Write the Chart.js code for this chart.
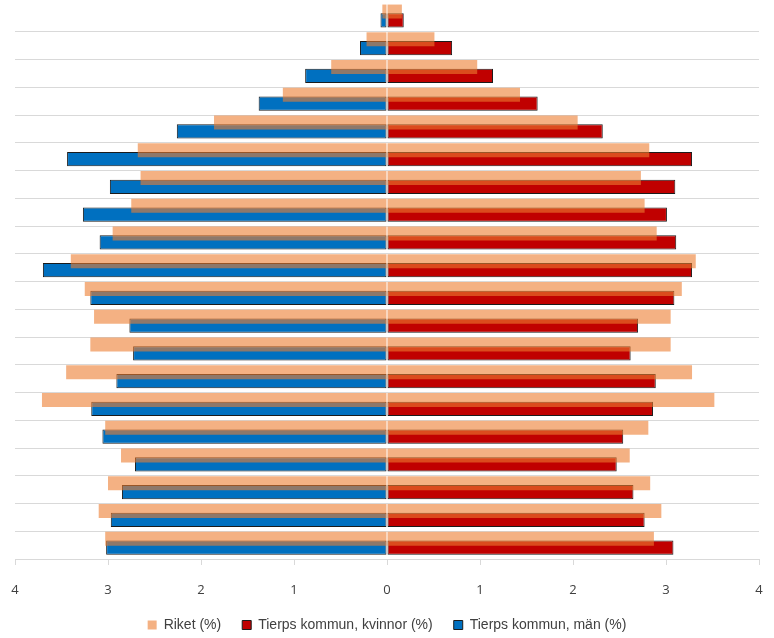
<!DOCTYPE html>
<html>
<head>
<meta charset="utf-8">
<script src="https://cdn.jsdelivr.net/npm/chart.js@4/dist/chart.umd.min.js"></script>
<style>
  html, body { margin: 0; padding: 0; background: #fff; }
  .chart-container { width: 774px; height: 638px; position: relative; }
</style>
</head>
<body>
<div class="chart-container"><canvas id="pyramid"></canvas></div>
<script>
// age groups, youngest first (the axis is reversed so 95+ ends up on top)
const ageGroups = ['0-4', '5-9', '10-14', '15-19', '20-24', '25-29', '30-34', '35-39', '40-44', '45-49',
  '50-54', '55-59', '60-64', '65-69', '70-74', '75-79', '80-84', '85-89', '90-94', '95+'];

const riketMan = [3.03, 3.10, 3.00, 2.86, 3.03, 3.71, 3.45, 3.19, 3.15, 3.25,
  3.40, 2.95, 2.75, 2.65, 2.68, 1.86, 1.12, 0.60, 0.22, 0.05];
const riketKvinna = [2.87, 2.95, 2.83, 2.61, 2.81, 3.52, 3.28, 3.05, 3.05, 3.17,
  3.32, 2.90, 2.77, 2.73, 2.82, 2.05, 1.43, 0.97, 0.51, 0.16];
const tierpMan = [3.02, 2.97, 2.85, 2.71, 3.06, 3.18, 2.91, 2.73, 2.77, 3.19,
  3.70, 3.09, 3.27, 2.98, 3.44, 2.26, 1.38, 0.88, 0.29, 0.07];
const tierpKvinna = [3.08, 2.77, 2.65, 2.47, 2.54, 2.86, 2.89, 2.62, 2.70, 3.09,
  3.28, 3.11, 3.01, 3.10, 3.28, 2.32, 1.62, 1.14, 0.70, 0.18];

const xTicks = [-4, -3, -2, -1, 0, 1, 2, 3, 4];

const riketColor = 'rgba(237, 125, 49, 0.6)';
const axisGrey = '#d9d9d9';

// Riket sits in the upper part of each row, Tierps in the lower part, and they overlap a bit
const riketBar = { stack: 'riket', categoryPercentage: 0.915, barPercentage: 1.1, backgroundColor: riketColor, borderWidth: 0 };
const tierpBar = { stack: 'tierp', categoryPercentage: 0.36, barPercentage: 2.88, borderWidth: 1, borderColor: '#1b1b1b', borderSkipped: false };

new Chart(document.getElementById('pyramid'), {
  type: 'bar',
  data: {
    labels: ageGroups,
    datasets: [
      { ...riketBar, label: 'Riket (%)', data: riketKvinna },
      { ...riketBar, label: 'Riket (%)', data: riketMan.map(v => -v) },
      { ...tierpBar, label: 'Tierps kommun, kvinnor (%)', data: tierpKvinna, backgroundColor: '#c00000' },
      { ...tierpBar, label: 'Tierps kommun, män (%)', data: tierpMan.map(v => -v), backgroundColor: '#0070c0' },
    ],
  },
  options: {
    indexAxis: 'y',
    responsive: true,
    maintainAspectRatio: false,
    animation: false,
    layout: { padding: { top: 4, left: 15, right: 15, bottom: 0 } },
    scales: {
      x: {
        stacked: true,
        min: -4,
        max: 4,
        afterBuildTicks: axis => { axis.ticks = xTicks.map(v => ({ value: v })); },
        // chart.js counts the tick padding twice in height and once more at the sides; undo that
        afterFit: axis => {
          axis.height = 38;
          axis.paddingLeft = 4;
          axis.paddingRight = 4;
        },
        ticks: {
          callback: v => Math.abs(v),
          color: '#404040',
          padding: 18.5,
          font: { family: 'Open Sans', size: 13, lineHeight: 1 },
        },
        grid: { drawOnChartArea: false, drawTicks: true, tickLength: 6, color: axisGrey },
        border: { display: true, color: axisGrey },
      },
      y: {
        reverse: true,
        ticks: { display: false },
        // no line above the top row
        grid: { offset: true, drawTicks: false, color: ctx => (ctx.type === 'tick' ? axisGrey : 'transparent') },
        border: { display: false },
      },
    },
    plugins: {
      tooltip: { enabled: false },
      legend: {
        position: 'bottom',
        maxHeight: 41,
        labels: {
          filter: item => item.datasetIndex !== 1,
          boxWidth: 9,
          boxHeight: 9,
          padding: 21,
          color: '#404040',
          font: { family: 'Liberation Sans', size: 14 },
        },
      },
    },
  },
});
</script>
</body>
</html>
